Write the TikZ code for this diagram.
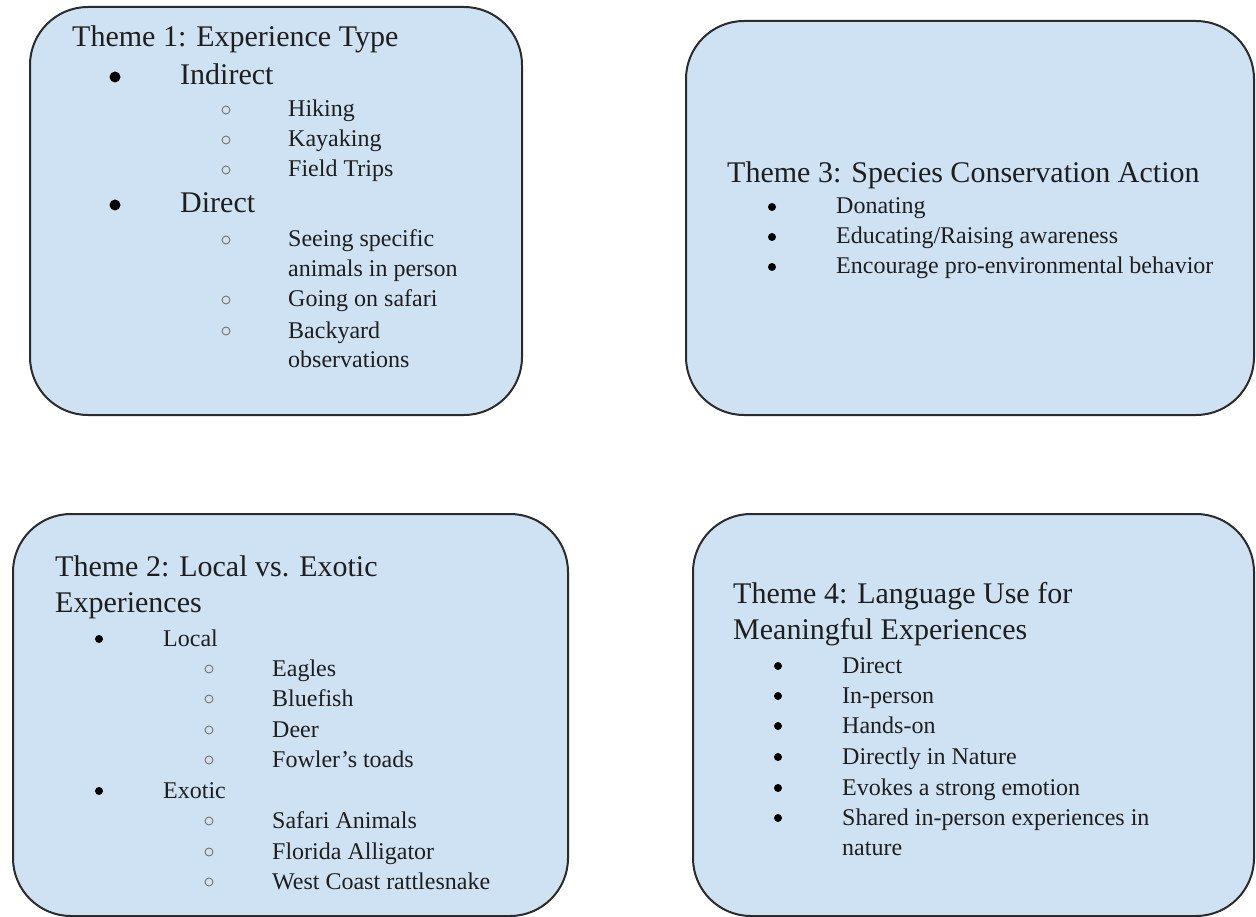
\documentclass[tikz,border=0pt]{standalone}
\usepackage{fontspec}
\setmainfont{Liberation Serif}
\usepackage{xcolor}
\usetikzlibrary{positioning}
\definecolor{themefill}{HTML}{CFE2F3}
\definecolor{themeline}{HTML}{2B2B2B}
\definecolor{inktext}{HTML}{1E1E1E}

\begin{document}
\begin{tikzpicture}[x=1pt, y=-1pt,
    themebox/.style={draw=themeline, line width=2pt, fill=themefill, rounded corners=58pt},
    heading/.style={anchor=base west, inner sep=0pt, text=inktext, font=\fontsize{30}{36}\selectfont},
    item/.style={anchor=base west, inner sep=0pt, text=inktext, font=\fontsize{24}{30}\selectfont},
    bigitem/.style={item, font=\fontsize{30}{36}\selectfont},
    dot/.style={circle, fill=black, inner sep=0pt, minimum size=8pt},
    bigdot/.style={dot, minimum size=11pt},
    ring/.style={circle, draw=black!55, line width=0.9pt, inner sep=0pt, minimum size=8pt}]

    \useasboundingbox (0,0) rectangle (1256,917);

    % the four theme boxes
    \draw[themebox] (30,7) rectangle (522,415);
    \draw[themebox] (686,21) rectangle (1254,415);
    \draw[themebox] (13,514) rectangle (568,916);
    \draw[themebox] (693,514) rectangle (1254,916);

    % theme 1
    \node[heading] (t1) at (72,47) {Theme 1: Experience Type};
    \node[bigdot]  (t1b1) at (115,77) {};
    \node[bigitem] (t1i1) at (180,85) {Indirect};
    \node[ring] (t1r1) at (226,110) {};
    \node[item] (t1s1) at (288,117) {Hiking};
    \node[ring] (t1r2) at (226,140) {};
    \node[item] (t1s2) at (288,147) {Kayaking};
    \node[ring] (t1r3) at (226,170) {};
    \node[item] (t1s3) at (288,177) {Field Trips};
    \node[bigdot]  (t1b2) at (115,205) {};
    \node[bigitem] (t1i2) at (180,213) {Direct};
    \node[ring] (t1r4) at (226,240) {};
    \node[item] (t1s4) at (288,247) {Seeing specific};
    \node[item] (t1s4b) at (288,277) {animals in person};
    \node[ring] (t1r5) at (226,300) {};
    \node[item] (t1s5) at (288,307) {Going on safari};
    \node[ring] (t1r6) at (226,331) {};
    \node[item] (t1s6) at (288,338) {Backyard};
    \node[item] (t1s6b) at (288,367) {observations};

    % theme 3
    \node[heading] (t3) at (727,183) {Theme 3: Species Conservation Action};
    \node[dot]  (t3b1) at (772,207) {};
    \node[item] (t3i1) at (836,214) {Donating};
    \node[dot]  (t3b2) at (772,237) {};
    \node[item] (t3i2) at (836,244) {Educating/Raising awareness};
    \node[dot]  (t3b3) at (772,267) {};
    \node[item] (t3i3) at (836,274) {Encourage pro-environmental behavior};

    % theme 2
    \node[heading] (t2) at (55,576) {Theme 2: Local vs. Exotic};
    \node[heading] (t2b) at (55,612) {Experiences};
    \node[dot]  (t2b1) at (99,639) {};
    \node[item] (t2i1) at (163,646) {Local};
    \node[ring] (t2r1) at (209,669) {};
    \node[item] (t2s1) at (272,676) {Eagles};
    \node[ring] (t2r2) at (209,699) {};
    \node[item] (t2s2) at (272,706) {Bluefish};
    \node[ring] (t2r3) at (209,730) {};
    \node[item] (t2s3) at (272,737) {Deer};
    \node[ring] (t2r4) at (209,760) {};
    \node[item] (t2s4) at (272,767) {Fowler’s toads};
    \node[dot]  (t2b2) at (99,791) {};
    \node[item] (t2i2) at (163,798) {Exotic};
    \node[ring] (t2r5) at (209,821) {};
    \node[item] (t2s5) at (272,828) {Safari Animals};
    \node[ring] (t2r6) at (209,852) {};
    \node[item] (t2s6) at (272,859) {Florida Alligator};
    \node[ring] (t2r7) at (209,882) {};
    \node[item] (t2s7) at (272,889) {West Coast rattlesnake};

    % theme 4
    \node[heading] (t4) at (733,603) {Theme 4: Language Use for};
    \node[heading] (t4b) at (733,639) {Meaningful Experiences};
    \node[dot]  (t4b1) at (778,666) {};
    \node[item] (t4i1) at (842,673) {Direct};
    \node[dot]  (t4b2) at (778,696) {};
    \node[item] (t4i2) at (842,703) {In-person};
    \node[dot]  (t4b3) at (778,726) {};
    \node[item] (t4i3) at (842,733) {Hands-on};
    \node[dot]  (t4b4) at (778,757) {};
    \node[item] (t4i4) at (842,764) {Directly in Nature};
    \node[dot]  (t4b5) at (778,788) {};
    \node[item] (t4i5) at (842,795) {Evokes a strong emotion};
    \node[dot]  (t4b6) at (778,818) {};
    \node[item] (t4i6) at (842,825) {Shared in-person experiences in};
    \node[item] (t4i6b) at (842,855) {nature};

\end{tikzpicture}
\end{document}
